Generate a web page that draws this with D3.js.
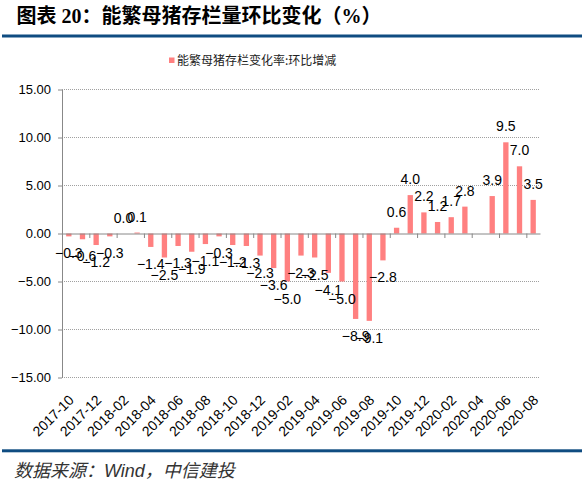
<!DOCTYPE html>
<html><head><meta charset="utf-8">
<script src="https://cdn.jsdelivr.net/npm/d3@7"></script>
<style>
html,body{margin:0;padding:0;background:#fff;}
svg{display:block;}
</style></head>
<body>
<svg id="c" width="582" height="486"></svg>
<script>
const months = ["2017-10","2017-11","2017-12","2018-01","2018-02","2018-03","2018-04","2018-05","2018-06","2018-07","2018-08","2018-09","2018-10","2018-11","2018-12","2019-01","2019-02","2019-03","2019-04","2019-05","2019-06","2019-07","2019-08","2019-09","2019-10","2019-11","2019-12","2020-01","2020-02","2020-03","2020-04","2020-05","2020-06","2020-07","2020-08"];
const values = [-0.3,-0.6,-1.2,-0.3,0.0,0.1,-1.4,-2.5,-1.3,-1.9,-1.1,-0.3,-1.2,-1.3,-2.3,-3.6,-5.0,-2.3,-2.5,-4.1,-5.0,-8.9,-9.1,-2.8,0.6,4.0,2.2,1.2,1.7,2.8,null,3.9,9.5,7.0,3.5];
const yTicks = [-15,-10,-5,0,5,10,15];
const xLabels = ["2017-10","2017-12","2018-02","2018-04","2018-06","2018-08","2018-10","2018-12","2019-02","2019-04","2019-06","2019-08","2019-10","2019-12","2020-02","2020-04","2020-06","2020-08"];
const titleText = "图表 20：能繁母猪存栏量环比变化（%）";
const legendText = "能繁母猪存栏变化率:环比增减";
const sourceText = "数据来源：Wind，中信建投";

const svg = d3.select("#c");
const L = 62, R = 540, T = 89.5, B = 377.5;
const blue = "#0F4C81";
const barColor = "#FF8080";

const x = d3.scaleBand().domain(months).range([L, R]).paddingInner(0.61).paddingOuter(0.305);
const xb = d3.scaleLinear().domain([0, months.length]).range([L, R]);
const y = d3.scaleLinear().domain([-15, 15]).range([B, T]);

// title
svg.append("text").attr("x", 16.5).attr("y", 22.5)
  .attr("font-family", "'Liberation Serif','Noto Sans CJK SC',serif")
  .attr("font-weight", "bold").attr("font-size", 20).attr("fill", "#000")
  .text(titleText);
svg.append("rect").attr("x", 2).attr("y", 34.5).attr("width", 580).attr("height", 3).attr("fill", blue);
svg.append("rect").attr("x", 2).attr("y", 449.3).attr("width", 580).attr("height", 3).attr("fill", blue);
svg.append("text").attr("x", 14).attr("y", 477)
  .attr("font-family", "'Liberation Sans','Noto Sans CJK SC',sans-serif")
  .attr("font-style", "italic").attr("font-size", 18).attr("fill", "#333")
  .text(sourceText);

// legend
svg.append("rect").attr("x", 169).attr("y", 57.5).attr("width", 5.5).attr("height", 5.5).attr("fill", barColor);
svg.append("text").attr("x", 177).attr("y", 64.5)
  .attr("font-family", "'Noto Sans CJK SC',sans-serif").attr("font-size", 12).attr("fill", "#222")
  .text(legendText);

// gridlines
svg.append("g").selectAll("line").data(yTicks.filter(d => d !== 0)).join("line")
  .attr("x1", L).attr("x2", R).attr("y1", d => y(d)).attr("y2", d => y(d))
  .attr("stroke", "#a0a0a0").attr("stroke-width", 1).attr("stroke-dasharray", "1,1");

// y axis
const ya = svg.append("g").attr("transform", `translate(${L},0)`)
  .call(d3.axisLeft(y).tickValues(yTicks).tickFormat(d3.format(".2f")).tickSizeInner(4).tickSizeOuter(0).tickPadding(7));
ya.select(".domain").attr("stroke", "#888");
ya.selectAll(".tick line").attr("stroke", "#888");
ya.selectAll(".tick text").attr("font-family", "'Liberation Sans',Arial,sans-serif").attr("font-size", 13).attr("fill", "#000");

// bars
svg.append("g").selectAll("rect").data(months.map((m, i) => ({m, v: values[i]})).filter(d => d.v !== null)).join("rect")
  .attr("x", d => x(d.m)).attr("width", x.bandwidth())
  .attr("y", d => y(Math.max(0, d.v))).attr("height", d => Math.abs(y(d.v) - y(0)))
  .attr("fill", barColor);

// zero axis
const xa = svg.append("g").attr("transform", `translate(0,${y(0)})`)
  .call(d3.axisBottom(xb).tickValues(d3.range(0, months.length + 1, 2)).tickFormat("").tickSizeInner(4.5).tickSizeOuter(0));
xa.select(".domain").attr("stroke", "#888");
xa.selectAll(".tick line").attr("stroke", "#888");

// x labels
svg.append("g").selectAll("text").data(xLabels).join("text")
  .attr("transform", d => `translate(${x(d) + x.bandwidth() / 2 + 6},401) rotate(-45)`)
  .attr("text-anchor", "end")
  .attr("font-family", "'Liberation Sans',Arial,sans-serif").attr("font-size", 14).attr("fill", "#000")
  .text(d => d);

// data labels
svg.append("g").selectAll("text").data(months.map((m, i) => ({m, v: values[i]})).filter(d => d.v !== null)).join("text")
  .attr("x", d => x(d.m) + x.bandwidth() / 2)
  .attr("y", d => d.v >= 0 ? y(d.v) - 11 : y(d.v) + 22)
  .attr("text-anchor", "middle")
  .attr("font-family", "'Liberation Sans',Arial,sans-serif").attr("font-size", 14).attr("fill", "#000")
  .text(d => d3.format(".1f")(d.v));
</script>
</body></html>
